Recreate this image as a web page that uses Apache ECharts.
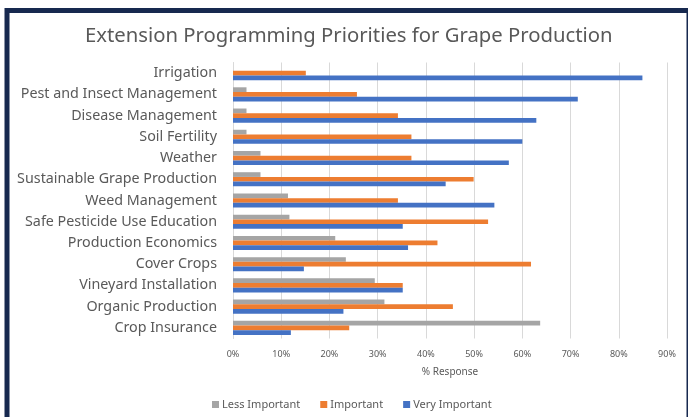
<!DOCTYPE html>
<html>
<head>
<meta charset="utf-8">
<script src="https://cdn.jsdelivr.net/npm/echarts@6/dist/echarts.min.js"></script>
<style>
  html, body { margin: 0; padding: 0; background: #fff; }
  #main { width: 688px; height: 417px; }
</style>
</head>
<body>
<div id="main"></div>
<script>
var categories = ['Irrigation', 'Pest and Insect Management', 'Disease Management', 'Soil Fertility',
  'Weather', 'Sustainable Grape Production', 'Weed Management', 'Safe Pesticide Use Education',
  'Production Economics', 'Cover Crops', 'Vineyard Installation', 'Organic Production', 'Crop Insurance'];

// % response
var lessImportant = [0, 2.8, 2.8, 2.8, 5.7, 5.7, 11.4, 11.7, 21.2, 23.4, 29.4, 31.4, 63.7];
var important     = [15.1, 25.7, 34.2, 37.0, 37.0, 49.9, 34.2, 52.9, 42.4, 61.8, 35.2, 45.6, 24.1];
var veryImportant = [84.9, 71.5, 62.9, 60.0, 57.2, 44.1, 54.2, 35.2, 36.3, 14.7, 35.2, 22.9, 12.0];

var xTicks = [0, 10, 20, 30, 40, 50, 60, 70, 80, 90];

var chart = echarts.init(document.getElementById('main'), null, { renderer: 'canvas' });

var textColor = '#595959';

function barSeries(name, data, color) {
  return {
    name: name,
    type: 'bar',
    data: data,
    barWidth: 4.7,
    barGap: '0%',
    itemStyle: { color: color },
    emphasis: { disabled: true }
  };
}

var option = {
  backgroundColor: '#fff',
  animation: false,
  title: {
    text: 'Extension Programming Priorities for Grape Production',
    left: 80,
    top: 21,
    textStyle: { fontFamily: 'Noto Sans', fontSize: 20.3, fontWeight: 'normal', color: textColor }
  },
  grid: { left: 233, right: 21, top: 62.5, bottom: 78.5, containLabel: false },
  xAxis: {
    type: 'value',
    min: xTicks[0],
    max: xTicks[xTicks.length - 1],
    interval: 10,
    name: '% Response',
    nameLocation: 'middle',
    nameGap: 29,
    nameTextStyle: { fontFamily: 'Noto Sans', fontSize: 10, color: textColor },
    axisLine: { show: false },
    axisTick: { show: false },
    axisLabel: {
      formatter: '{value}%',
      fontFamily: 'Noto Sans', fontSize: 9, color: textColor, margin: 11
    },
    splitLine: { show: true, lineStyle: { color: '#d9d9d9', width: 1 } }
  },
  yAxis: {
    type: 'category',
    data: categories,
    inverse: true,
    axisLine: { show: true, lineStyle: { color: '#d9d9d9' } },
    axisTick: { show: false },
    axisLabel: {
      fontFamily: 'Noto Sans', fontSize: 14.3, color: textColor, margin: 16
    }
  },
  legend: {
    bottom: 2,
    left: 207,
    itemWidth: 7,
    itemHeight: 7,
    itemGap: 20,
    icon: 'rect',
    textStyle: { fontFamily: 'Noto Sans', fontSize: 11, color: textColor, padding: [0, 0, 0, -2] },
    data: ['Less Important', 'Important', 'Very Important']
  },
  series: [
    barSeries('Less Important', lessImportant, '#a5a5a5'),
    barSeries('Important', important, '#ed7d31'),
    barSeries('Very Important', veryImportant, '#4472c4')
  ],
  graphic: [{
    type: 'rect',
    silent: true,
    z: 100,
    shape: { x: 7, y: 10.5, width: 682, height: 430 },
    style: { fill: 'none', stroke: '#17294f', lineWidth: 5 }
  }]
};

chart.setOption(option);
</script>
</body>
</html>
